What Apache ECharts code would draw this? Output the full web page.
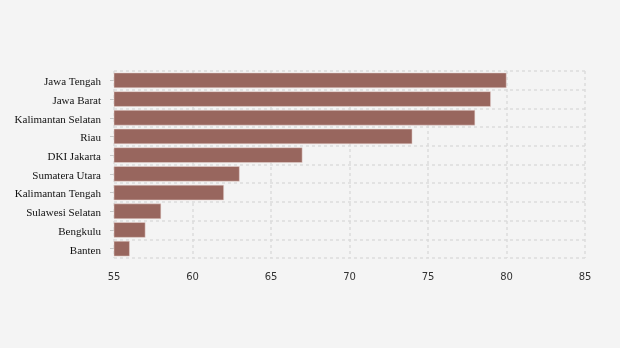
<!DOCTYPE html>
<html><head><meta charset="utf-8">
<script src="https://cdn.jsdelivr.net/npm/echarts@6/dist/echarts.min.js"></script>
<style>html,body{margin:0;padding:0;background:#f4f4f4}#c{width:620px;height:348px}</style>
</head><body><div id="c"></div>
<script>
const categories = ["Jawa Tengah","Jawa Barat","Kalimantan Selatan","Riau","DKI Jakarta","Sumatera Utara","Kalimantan Tengah","Sulawesi Selatan","Bengkulu","Banten"];
const values = [80,79,78,74,67,63,62,58,57,56];
const xTicks = [55,60,65,70,75,80,85];

const chart = echarts.init(document.getElementById('c'), null, {renderer:'canvas'});
chart.setOption({
  backgroundColor:'#f4f4f4',
  animation:false,
  grid:{left:114,right:35,top:71,bottom:90,containLabel:false},
  xAxis:{type:'value',min:xTicks[0],max:xTicks[xTicks.length-1],interval:5,
    axisLine:{show:false},axisTick:{show:false},
    axisLabel:{color:'#333',fontFamily:'DejaVu Sans',fontSize:10,margin:14},
    splitLine:{show:true,lineStyle:{color:'#dcdcdc',type:[3,3],width:1.5}}},
  yAxis:{type:'category',inverse:true,data:categories,
    axisLine:{show:false},
    axisTick:{show:true,alignWithLabel:true,length:4,lineStyle:{color:'#c8c8c8'}},
    axisLabel:{margin:13,formatter:v=>'{a|'+v+'}',
      rich:{a:{color:'#111',fontFamily:'Liberation Serif',fontSize:11,padding:[4,0,0,0]}}},
    splitLine:{show:true,lineStyle:{color:'#dcdcdc',type:[3,3],width:1.5}}},
  series:[{type:'bar',data:values,barCategoryGap:'18%',
    itemStyle:{color:'#98665e',borderColor:'#e8d6d2',borderWidth:0.5}}]
});
</script></body></html>
